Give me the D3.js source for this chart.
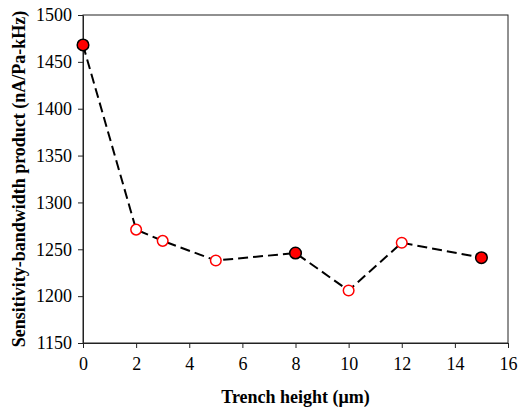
<!DOCTYPE html>
<html lang="en">
<head>
<meta charset="UTF-8">
<title>Sensitivity-bandwidth product vs trench height</title>
<style>
  body { margin: 0; background: #fff; }
  svg text { font-family: "Liberation Serif", "Times New Roman", serif !important; }
</style>
</head>
<body>
<script src="https://cdn.jsdelivr.net/npm/d3@7"></script>
<script>
  // data
  const trenchHeight = [0, 2, 3, 5, 8, 10, 12, 15];
  const product = [1468, 1271, 1259, 1238, 1246, 1206, 1257, 1241];
  const filledAt = [0, 8, 15];   // solid markers, the rest are open
  const xTicks = [0, 2, 4, 6, 8, 10, 12, 14, 16];
  const yTicks = [1150, 1200, 1250, 1300, 1350, 1400, 1450, 1500];

  const width = 519, height = 409;
  const margin = {top: 15, right: 11, bottom: 66, left: 83};

  const x = d3.scaleLinear().domain([0, 16]).range([margin.left, width - margin.right]);
  const y = d3.scaleLinear().domain([1150, 1500]).range([height - margin.bottom, margin.top]);

  const svg = d3.select("body").append("svg")
      .attr("width", width)
      .attr("height", height)
      .attr("viewBox", [0, 0, width, height]);

  // frame
  svg.append("rect")
      .attr("x", x(0)).attr("y", y(1500))
      .attr("width", x(16) - x(0)).attr("height", y(1150) - y(1500))
      .attr("fill", "none").attr("stroke", "#222").attr("stroke-width", 1);

  svg.append("g")
      .attr("transform", `translate(0,${y(1150)})`)
      .call(d3.axisBottom(x).tickValues(xTicks).tickFormat(d3.format("d"))
        .tickSize(5).tickPadding(9).tickSizeOuter(0))
      .attr("font-size", 18)
      .call(g => g.selectAll("line, path").attr("stroke", "#222"))
      .call(g => g.selectAll("text").attr("fill", "#000"));

  svg.append("g")
      .attr("transform", `translate(${x(0)},0)`)
      .call(d3.axisLeft(y).tickValues(yTicks).tickFormat(d3.format("d"))
        .tickSize(5).tickPadding(6).tickSizeOuter(0))
      .attr("font-size", 18)
      .call(g => g.selectAll("line, path").attr("stroke", "#222"))
      .call(g => g.selectAll("text").attr("fill", "#000"));

  const pts = trenchHeight.map((h, i) => ({h, v: product[i], filled: filledAt.includes(h)}));

  svg.append("path")
      .datum(pts)
      .attr("fill", "none")
      .attr("stroke", "#000")
      .attr("stroke-width", 2)
      .attr("stroke-dasharray", "10,5")
      .attr("d", d3.line().x(d => x(d.h)).y(d => y(d.v)));

  svg.append("g")
    .selectAll("circle")
    .data(pts)
    .join("circle")
      .attr("cx", d => x(d.h))
      .attr("cy", d => y(d.v))
      .attr("r", d => d.filled ? 5.8 : 5.3)
      .attr("fill", d => d.filled ? "#ff0000" : "#fff")
      .attr("stroke", d => d.filled ? "#000" : "#ff0000")
      .attr("stroke-width", 1.5);

  svg.append("text")
      .attr("x", (x(0) + x(16)) / 2)
      .attr("y", 403)
      .attr("text-anchor", "middle")
      .attr("font-size", 18)
      .attr("font-weight", "bold")
      .text("Trench height (μm)");

  svg.append("text")
      .attr("transform", `translate(25,${(y(1150) + y(1500)) / 2}) rotate(-90)`)
      .attr("text-anchor", "middle")
      .attr("font-size", 18)
      .attr("font-weight", "bold")
      .text("Sensitivity-bandwidth product (nA/Pa-kHz)");
</script>
</body>
</html>
